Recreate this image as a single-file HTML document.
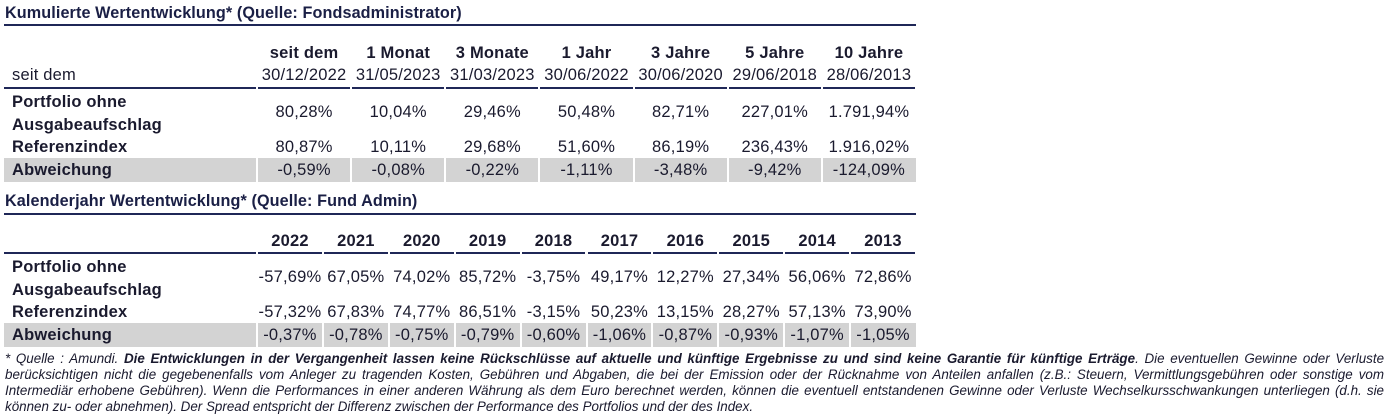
<!DOCTYPE html>
<html><head><meta charset="utf-8">
<style>
body{margin:0;width:1388px;height:416px;background:#fff;position:relative;overflow:hidden;font-family:"Liberation Sans",Arial,sans-serif;color:#1a1a2e}
.a{position:absolute;white-space:nowrap;line-height:20px}
.t{font-weight:bold;font-size:16.2px;color:#1a1f45;letter-spacing:0.1px}
.line{position:absolute;background:#1f2757;height:2px}
.c{position:absolute;text-align:center;font-size:16.5px;line-height:20px;white-space:nowrap;letter-spacing:0.2px}
.b{font-weight:bold}
.lab{font-size:16.5px;letter-spacing:0.2px}
.gray{position:absolute;background:#d3d3d3}
.fn{position:absolute;left:5px;width:1379px;font-size:13.4px;font-style:italic;line-height:16px;text-align:justify;text-align-last:justify;white-space:nowrap;color:#1a1a2e}
</style></head><body>
<div class="a t" style="left:5px;top:3px">Kumulierte Wertentwicklung* (Quelle: Fondsadministrator)</div>
<div class="line" style="left:4px;top:24px;width:912px"></div>
<div class="a t" style="left:5px;top:191px">Kalenderjahr Wertentwicklung* (Quelle: Fund Admin)</div>
<div class="line" style="left:4px;top:213px;width:912px"></div>
<div class="fn" style="top:351px">* Quelle : Amundi. <b>Die Entwicklungen in der Vergangenheit lassen keine Rückschlüsse auf aktuelle und künftige Ergebnisse zu und sind keine Garantie für künftige Erträge</b>. Die eventuellen Gewinne oder Verluste</div>
<div class="fn" style="top:367px">berücksichtigen nicht die gegebenenfalls vom Anleger zu tragenden Kosten, Gebühren und Abgaben, die bei der Emission oder der Rücknahme von Anteilen anfallen (z.B.: Steuern, Vermittlungsgebühren oder sonstige vom</div>
<div class="fn" style="top:383px">Intermediär erhobene Gebühren). Wenn die Performances in einer anderen Währung als dem Euro berechnet werden, können die eventuell entstandenen Gewinne oder Verluste Wechselkursschwankungen unterliegen (d.h. sie</div>
<div class="fn" style="top:399px;text-align-last:left">können zu- oder abnehmen). Der Spread entspricht der Differenz zwischen der Performance des Portfolios und der des Index.</div>
<script>
const periods1=["seit dem","1 Monat","3 Monate","1 Jahr","3 Jahre","5 Jahre","10 Jahre"];
const dates1=["30/12/2022","31/05/2023","31/03/2023","30/06/2022","30/06/2020","29/06/2018","28/06/2013"];
const port1=["80,28%","10,04%","29,46%","50,48%","82,71%","227,01%","1.791,94%"];
const ref1=["80,87%","10,11%","29,68%","51,60%","86,19%","236,43%","1.916,02%"];
const dev1=["-0,59%","-0,08%","-0,22%","-1,11%","-3,48%","-9,42%","-124,09%"];
const years2=["2022","2021","2020","2019","2018","2017","2016","2015","2014","2013"];
const port2=["-57,69%","67,05%","74,02%","85,72%","-3,75%","49,17%","12,27%","27,34%","56,06%","72,86%"];
const ref2=["-57,32%","67,83%","74,77%","86,51%","-3,15%","50,23%","13,15%","28,27%","57,13%","73,90%"];
const dev2=["-0,37%","-0,78%","-0,75%","-0,79%","-0,60%","-1,06%","-0,87%","-0,93%","-1,07%","-1,05%"];
const root=document.body;
function el(cls,style,txt,name){const d=document.createElement('div');d.className=cls;d.style.cssText=style;if(txt!==undefined)d.textContent=txt;


root.appendChild(d);return d;}
function table(o){
  const n=o.cols.length,x0=257,w=(916-x0)/n;
  el('gray',`left:4px;top:${o.gy}px;width:912px;height:24px`,undefined,'deviation-row-bg');
  for(let i=0;i<n;i++){
    const x=x0+i*w;
    el('c b',`left:${x}px;top:${o.hy-10}px;width:${w}px`,o.cols[i],'column-header');
    if(o.dates) el('c',`left:${x}px;top:${o.hy+12}px;width:${w}px`,o.dates[i],'column-date');
    el('c',`left:${x}px;top:${o.py-10}px;width:${w}px`,o.port[i],'portfolio-value');
    el('c',`left:${x}px;top:${o.ry-10}px;width:${w}px`,o.ref[i],'index-value');
    el('c',`left:${x}px;top:${o.gy+2}px;width:${w}px`,o.dev[i],'deviation-value');
    el('gray',`left:${x-1}px;top:${o.gy}px;width:2px;height:24px;background:#fff`,undefined,'cell-separator');
    el('line',`left:${x+1}px;top:${o.ly}px;width:${w-2}px`,undefined,'header-rule');
  }
  el('line',`left:4px;top:${o.ly}px;width:252px`,undefined,'header-rule');
  el('a b lab',`left:12px;top:${o.py-21}px;line-height:23px`,'',"portfolio-label").innerHTML='Portfolio ohne<br>Ausgabeaufschlag';
  el('a b lab',`left:12px;top:${o.ry-10}px`,'Referenzindex','index-label');
  el('a b lab',`left:12px;top:${o.gy+2}px`,'Abweichung','deviation-label');
}
el('a lab',`left:12px;top:65px`,'seit dem','since-label');
table({cols:periods1,dates:dates1,port:port1,ref:ref1,dev:dev1,hy:53,ly:87,py:112,ry:147,gy:158});
table({cols:years2,port:port2,ref:ref2,dev:dev2,hy:241,ly:252,py:277,ry:312,gy:323});
</script>
</body></html>
